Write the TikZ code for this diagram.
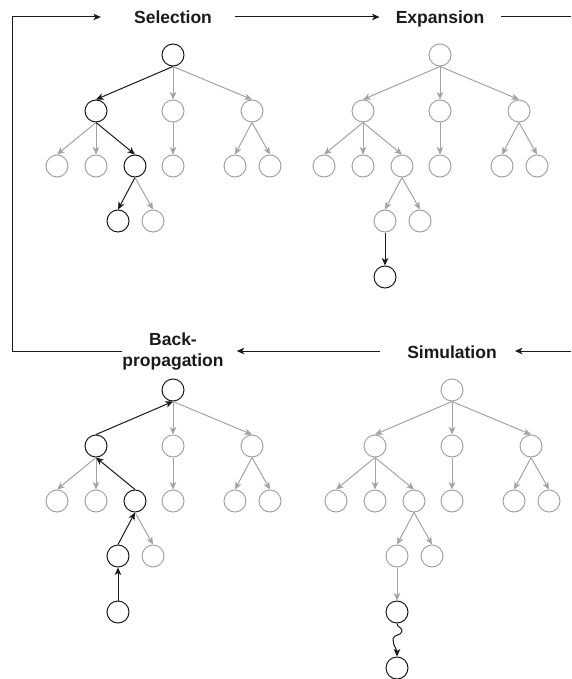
\documentclass[tikz,border=0pt]{standalone}
\usepackage{fontspec}
\setmainfont{Liberation Sans}
\usetikzlibrary{arrows.meta}
\definecolor{lg}{HTML}{A3A3A3}
\definecolor{dk}{HTML}{1A1A1A}
\tikzset{
  gnode/.style={circle,draw=lg,line width=1pt,minimum size=22pt,inner sep=0pt},
  bnode/.style={circle,draw=dk,line width=1pt,minimum size=22pt,inner sep=0pt},
  tip/.style={-{Stealth[length=7.5pt,width=6.5pt,inset=2pt]}},
  gedge/.style={draw=lg,line width=1pt,tip},
  bedge/.style={draw=dk,line width=1pt,tip},
  lbl/.style={font=\bfseries\fontsize{17.5}{21}\selectfont,inner sep=0pt,text=dk,align=center},
  onelbl/.style={lbl,text height=12.5pt,text depth=0pt},
  flow/.style={draw=dk,line width=1pt},
  flowarr/.style={draw=dk,line width=1pt,tip}
}
\begin{document}
\begin{tikzpicture}[x=1pt,y=-1pt]
\useasboundingbox (0,0) rectangle (571,679);

% ---------- labels ----------
\node[onelbl] (sel) at (173,17) {Selection};
\node[onelbl] (exp) at (440,17) {Expansion};
\node[lbl] (back) at (173,352) {Back-\\propagation};
\node[onelbl] (sim) at (452,352) {Simulation};
\coordinate (cTL) at (12,17);
\coordinate (cBL) at (12,351);
\coordinate (cTR) at (571,17);
\coordinate (cBR) at (571,351);

\draw[flowarr,shorten <=23pt,shorten >=16pt] (sel) -- (exp);
\draw[flow,shorten <=17pt] (exp.east) -- (cTR);
\draw[flowarr,shorten >=18pt] (cBR) -- (sim.east |- cBR);
\draw[flowarr,shorten <=27pt,shorten >=13pt] (sim.west |- cBR) -- (back.east |- cBR);
\draw[flowarr,shorten >=33pt] (back.west |- cBL) -- (cBL) -- (cTL) -- (sel.west);

% ---------- Selection ----------
\begin{scope}
\node[bnode] (s-r) at (173,55) {};
\node[bnode] (s-a) at (96,111) {};
\node[gnode] (s-b) at (173,111) {};
\node[gnode] (s-c) at (252,111) {};
\node[gnode] (s-a1) at (57,166) {};
\node[gnode] (s-a2) at (96,166) {};
\node[bnode] (s-a3) at (135,166) {};
\node[gnode] (s-b1) at (173,166) {};
\node[gnode] (s-c1) at (235,166) {};
\node[gnode] (s-c2) at (270,166) {};
\node[bnode] (s-d1) at (118,221) {};
\node[gnode] (s-d2) at (153,221) {};
\draw[bedge] (s-r.south) -- (s-a.north);
\draw[gedge] (s-r.south) -- (s-b.north);
\draw[gedge] (s-r.south) -- (s-c.north);
\draw[gedge] (s-a.south) -- (s-a1.north);
\draw[gedge] (s-a.south) -- (s-a2.north);
\draw[bedge] (s-a.south) -- (s-a3.north);
\draw[gedge] (s-b.south) -- (s-b1.north);
\draw[gedge] (s-c.south) -- (s-c1.north);
\draw[gedge] (s-c.south) -- (s-c2.north);
\draw[bedge] (s-a3.south) -- (s-d1.north);
\draw[gedge] (s-a3.south) -- (s-d2.north);
\end{scope}

% ---------- Expansion ----------
\begin{scope}[shift={(267,0)}]
\node[gnode] (e-r) at (173,55) {};
\node[gnode] (e-a) at (96,111) {};
\node[gnode] (e-b) at (173,111) {};
\node[gnode] (e-c) at (252,111) {};
\node[gnode] (e-a1) at (57,166) {};
\node[gnode] (e-a2) at (96,166) {};
\node[gnode] (e-a3) at (135,166) {};
\node[gnode] (e-b1) at (173,166) {};
\node[gnode] (e-c1) at (235,166) {};
\node[gnode] (e-c2) at (270,166) {};
\node[gnode] (e-d1) at (118,221) {};
\node[gnode] (e-d2) at (153,221) {};
\node[bnode] (e-e) at (118,277) {};
\draw[gedge] (e-r.south) -- (e-a.north);
\draw[gedge] (e-r.south) -- (e-b.north);
\draw[gedge] (e-r.south) -- (e-c.north);
\draw[gedge] (e-a.south) -- (e-a1.north);
\draw[gedge] (e-a.south) -- (e-a2.north);
\draw[gedge] (e-a.south) -- (e-a3.north);
\draw[gedge] (e-b.south) -- (e-b1.north);
\draw[gedge] (e-c.south) -- (e-c1.north);
\draw[gedge] (e-c.south) -- (e-c2.north);
\draw[gedge] (e-a3.south) -- (e-d1.north);
\draw[gedge] (e-a3.south) -- (e-d2.north);
\draw[bedge] (e-d1.south) -- (e-e.north);
\end{scope}

% ---------- Backpropagation ----------
\begin{scope}[shift={(0,335)}]
\node[bnode] (b-r) at (173,55) {};
\node[bnode] (b-a) at (96,111) {};
\node[gnode] (b-b) at (173,111) {};
\node[gnode] (b-c) at (252,111) {};
\node[gnode] (b-a1) at (57,166) {};
\node[gnode] (b-a2) at (96,166) {};
\node[bnode] (b-a3) at (135,166) {};
\node[gnode] (b-b1) at (173,166) {};
\node[gnode] (b-c1) at (235,166) {};
\node[gnode] (b-c2) at (270,166) {};
\node[bnode] (b-d1) at (118,221) {};
\node[gnode] (b-d2) at (153,221) {};
\node[bnode] (b-e) at (118,277) {};
\draw[bedge] (b-a.north) -- (b-r.south);
\draw[gedge] (b-r.south) -- (b-b.north);
\draw[gedge] (b-r.south) -- (b-c.north);
\draw[gedge] (b-a.south) -- (b-a1.north);
\draw[gedge] (b-a.south) -- (b-a2.north);
\draw[bedge] (b-a3.north) -- (b-a.south);
\draw[gedge] (b-b.south) -- (b-b1.north);
\draw[gedge] (b-c.south) -- (b-c1.north);
\draw[gedge] (b-c.south) -- (b-c2.north);
\draw[bedge] (b-d1.north) -- (b-a3.south);
\draw[gedge] (b-a3.south) -- (b-d2.north);
\draw[bedge] (b-e.north) -- (b-d1.south);
\end{scope}

% ---------- Simulation ----------
\begin{scope}[shift={(279,335)}]
\node[gnode] (m-r) at (173,55) {};
\node[gnode] (m-a) at (96,111) {};
\node[gnode] (m-b) at (173,111) {};
\node[gnode] (m-c) at (252,111) {};
\node[gnode] (m-a1) at (57,166) {};
\node[gnode] (m-a2) at (96,166) {};
\node[gnode] (m-a3) at (135,166) {};
\node[gnode] (m-b1) at (173,166) {};
\node[gnode] (m-c1) at (235,166) {};
\node[gnode] (m-c2) at (270,166) {};
\node[gnode] (m-d1) at (118,221) {};
\node[gnode] (m-d2) at (153,221) {};
\node[bnode] (m-e) at (118,277) {};
\node[bnode] (m-f) at (118,333) {};
\draw[gedge] (m-r.south) -- (m-a.north);
\draw[gedge] (m-r.south) -- (m-b.north);
\draw[gedge] (m-r.south) -- (m-c.north);
\draw[gedge] (m-a.south) -- (m-a1.north);
\draw[gedge] (m-a.south) -- (m-a2.north);
\draw[gedge] (m-a.south) -- (m-a3.north);
\draw[gedge] (m-b.south) -- (m-b1.north);
\draw[gedge] (m-c.south) -- (m-c1.north);
\draw[gedge] (m-c.south) -- (m-c2.north);
\draw[gedge] (m-a3.south) -- (m-d1.north);
\draw[gedge] (m-a3.south) -- (m-d2.north);
\draw[gedge] (m-d1.south) -- (m-e.north);
\coordinate (m-w1) at (123,296);
\coordinate (m-w2) at (114,304);
\draw[bedge] (m-e.south) to[out=-90,in=90] (m-w1) to[out=-90,in=90] (m-w2) to[out=-90,in=90] (m-f.north);
\end{scope}
\end{tikzpicture}
\end{document}
